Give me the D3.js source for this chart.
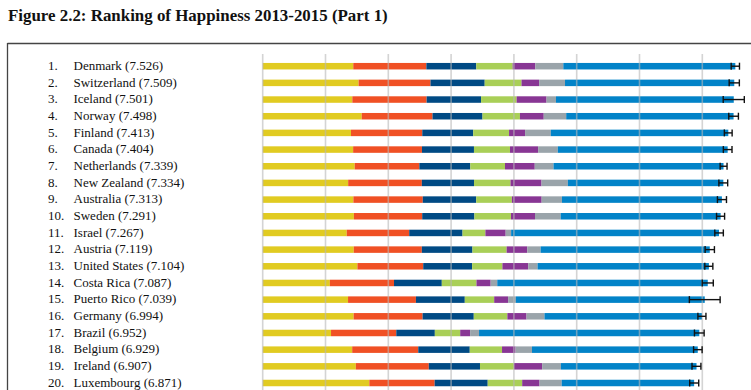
<!DOCTYPE html>
<html>
<head>
<meta charset="utf-8">
<script src="https://cdn.jsdelivr.net/npm/d3@7"></script>
<style>
  html, body { margin: 0; padding: 0; background: #fff; }
  svg { display: block; }
</style>
</head>
<body>
<svg id="chart" width="751" height="390"></svg>
<script>
const countries = ["Denmark","Switzerland","Iceland","Norway","Finland","Canada","Netherlands","New Zealand","Australia","Sweden","Israel","Austria","United States","Costa Rica","Puerto Rico","Germany","Brazil","Belgium","Ireland","Luxembourg"];
const scores = [7.526,7.509,7.501,7.498,7.413,7.404,7.339,7.334,7.313,7.291,7.267,7.119,7.104,7.087,7.039,6.994,6.952,6.929,6.907,6.871];
const gdpPerCapita = [1.442,1.527,1.427,1.577,1.406,1.440,1.465,1.361,1.444,1.452,1.338,1.450,1.508,1.069,1.359,1.448,1.088,1.425,1.483,1.698];
const socialSupport = [1.164,1.145,1.183,1.127,1.135,1.096,1.029,1.173,1.105,1.088,0.995,1.084,1.048,1.022,1.081,1.098,1.039,1.052,1.162,1.040];
const healthyLife = [0.795,0.863,0.867,0.796,0.811,0.828,0.812,0.831,0.851,0.831,0.849,0.806,0.779,0.761,0.778,0.815,0.614,0.820,0.815,0.845];
const freedom = [0.579,0.586,0.566,0.596,0.571,0.574,0.552,0.581,0.568,0.582,0.364,0.544,0.482,0.552,0.468,0.535,0.404,0.514,0.540,0.549];
const generosity = [0.362,0.281,0.477,0.379,0.255,0.448,0.474,0.494,0.474,0.383,0.323,0.329,0.411,0.226,0.222,0.305,0.158,0.215,0.450,0.276];
const corruption = [0.445,0.412,0.150,0.358,0.410,0.313,0.299,0.419,0.323,0.409,0.087,0.213,0.149,0.105,0.123,0.286,0.142,0.262,0.298,0.353];
const dystopiaResidual = [2.739,2.695,2.831,2.665,2.826,2.705,2.707,2.476,2.547,2.547,3.310,2.693,2.728,3.352,3.008,2.509,3.507,2.640,2.160,2.109];
const ciLow = [7.460,7.428,7.333,7.421,7.351,7.335,7.284,7.264,7.241,7.227,7.199,7.045,7.040,6.999,6.794,6.930,6.875,6.861,6.836,6.799];
const ciHigh = [7.592,7.590,7.669,7.575,7.475,7.473,7.394,7.404,7.385,7.355,7.335,7.193,7.168,7.175,7.284,7.058,7.029,6.997,6.978,6.943];
const gridTicks = [0,1,2,3,4,5,6,7];
const title = "Figure 2.2: Ranking of Happiness 2013-2015 (Part 1)";

const keys = ["gdp","social","health","freedom","generosity","corruption","dystopia"];
const colors = ["#E1CB21","#F05024","#004A84","#A9CF57","#883694","#9AA4AA","#0283C8"];

const rows = countries.map((c, i) => ({
  country: c, score: scores[i], lo: ciLow[i], hi: ciHigh[i], rank: i + 1,
  gdp: gdpPerCapita[i], social: socialSupport[i], health: healthyLife[i],
  freedom: freedom[i], generosity: generosity[i], corruption: corruption[i],
  dystopia: dystopiaResidual[i]
}));

const svg = d3.select("#chart");
const x = d3.scaleLinear().domain([0, 7]).range([262.7, 702.3]);
const y = d3.scalePoint().domain(countries).range([66.2, 383]);
const color = d3.scaleOrdinal().domain(keys).range(colors);
const barH = 6.5;

// Title
const t = svg.append("text")
  .attr("x", 8).attr("y", 21)
  .attr("font-family", "'Liberation Serif', 'DejaVu Serif', serif")
  .attr("font-weight", "bold")
  .attr("font-size", 16)
  .attr("fill", "#111")
  .text(title);
const len = t.node().getComputedTextLength();
t.attr("font-size", 16 * 380 / len);

// Frame
svg.append("line").attr("x1", 7.5).attr("x2", 751).attr("y1", 43.5).attr("y2", 43.5)
  .attr("stroke", "#444").attr("stroke-width", 1.3);
svg.append("line").attr("x1", 7.5).attr("x2", 7.5).attr("y1", 43).attr("y2", 390)
  .attr("stroke", "#444").attr("stroke-width", 1.3);

// Stacked bars
const stack = d3.stack().keys(keys)(rows);
svg.append("g").selectAll("g").data(stack).join("g")
  .attr("fill", d => color(d.key))
  .selectAll("rect").data(d => d).join("rect")
  .attr("x", d => x(d[0]))
  .attr("width", d => x(d[1]) - x(d[0]))
  .attr("y", d => y(d.data.country) - barH / 2)
  .attr("height", barH);

// Grid lines (drawn over the bars, semi transparent)
svg.append("g").selectAll("line").data(gridTicks).join("line")
  .attr("x1", d => x(d)).attr("x2", d => x(d))
  .attr("y1", 54).attr("y2", 390)
  .attr("stroke", "#b8b8b8").attr("stroke-width", 1.6).attr("opacity", 0.6);

// Error bars
const eb = svg.append("g").attr("stroke", "#111").attr("stroke-width", 1.4).attr("fill", "none");
eb.selectAll("line.h").data(rows).join("line").attr("class", "h")
  .attr("x1", d => x(d.lo)).attr("x2", d => x(d.hi))
  .attr("y1", d => y(d.country)).attr("y2", d => y(d.country));
eb.selectAll("line.l").data(rows).join("line").attr("class", "l")
  .attr("x1", d => x(d.lo)).attr("x2", d => x(d.lo))
  .attr("y1", d => y(d.country) - 3.5).attr("y2", d => y(d.country) + 3.5);
eb.selectAll("line.r").data(rows).join("line").attr("class", "r")
  .attr("x1", d => x(d.hi)).attr("x2", d => x(d.hi))
  .attr("y1", d => y(d.country) - 3.5).attr("y2", d => y(d.country) + 3.5);

// Labels
const lab = svg.append("g")
  .attr("font-family", "'Liberation Serif', 'DejaVu Serif', serif")
  .attr("font-size", 13).attr("fill", "#111");
lab.selectAll("text.rank").data(rows).join("text").attr("class", "rank")
  .attr("x", 48).attr("y", d => y(d.country) + 3.8)
  .text(d => d.rank + ".");
lab.selectAll("text.name").data(rows).join("text").attr("class", "name")
  .attr("x", 73.5).attr("y", d => y(d.country) + 3.8)
  .text(d => d.country + " (" + d3.format(".3f")(d.score) + ")");
</script>
</body>
</html>
